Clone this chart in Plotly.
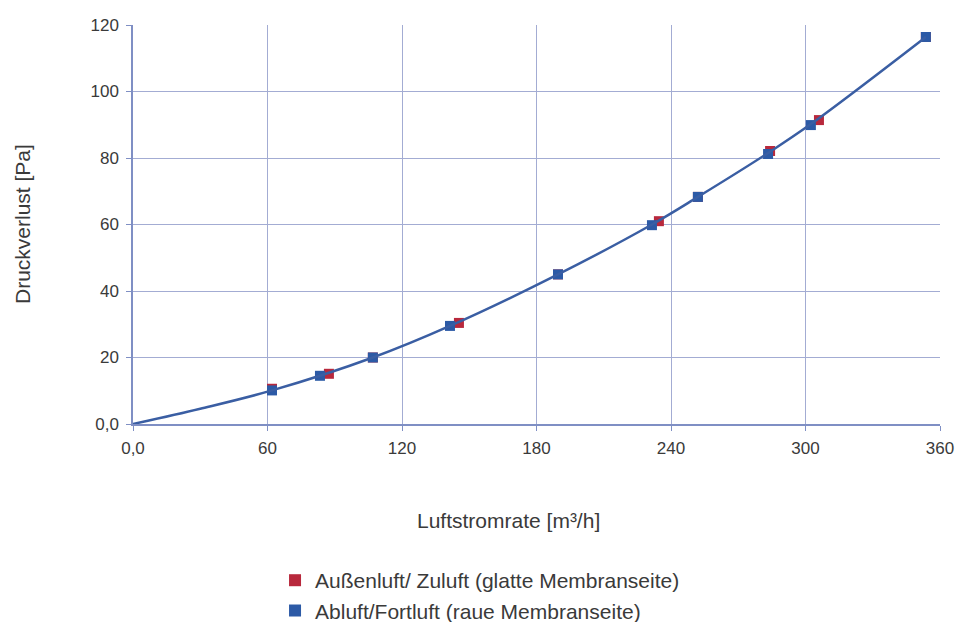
import plotly.graph_objects as go

# Data
x_red = [62, 87.4, 107, 145.4, 189.6, 234.6, 252, 284.2, 306, 353.7]
y_red = [10.6, 15.1, 20.0, 30.4, 45.0, 61.0, 68.3, 82.1, 91.4, 116.4]
x_blue = [62, 83.4, 107, 141.4, 189.6, 231.5, 252, 283.3, 302.4, 353.7]
y_blue = [10.1, 14.5, 20.0, 29.5, 45.0, 59.8, 68.3, 81.2, 89.9, 116.4]
# fitted curve
x_curve = [0, 30, 62, 107, 141.4, 189.6, 231.5, 252, 283.3, 302.4, 353.7]
y_curve = [0, 4.6, 10.1, 20.0, 29.5, 45.0, 60.0, 68.3, 81.5, 90.2, 116.4]

x_ticks = [0, 60, 120, 180, 240, 300, 360]
x_ticktext = ["0,0", "60", "120", "180", "240", "300", "360"]
y_ticks = [0, 20, 40, 60, 80, 100, 120]
y_ticktext = ["0,0", "20", "40", "60", "80", "100", "120"]

x_title = "Luftstromrate [m³/h]"
y_title = "Druckverlust [Pa]"

red = "#b8283c"
blue = "#2c5aa6"
line_col = "#3a5ea3"
grid = "#a3acd3"
axis_col = "#7f8fc4"
txt = "#3a3a3a"
font = "Liberation Sans, Arial, sans-serif"

fig = go.Figure()
fig.add_trace(go.Scatter(x=x_red, y=y_red, mode="markers", name="Außenluft/ Zuluft (glatte Membranseite)",
                         marker=dict(symbol="square", size=10, color=red)))
fig.add_trace(go.Scatter(x=x_blue, y=y_blue, mode="markers", name="Abluft/Fortluft (raue Membranseite)",
                         marker=dict(symbol="square", size=10, color=blue)))
fig.add_trace(go.Scatter(x=x_curve, y=y_curve, mode="lines", showlegend=False,
                         line=dict(color=line_col, width=2.5, shape="spline", smoothing=1.0)))

fig.update_layout(
    width=947, height=614,
    margin=dict(l=125, r=15, t=17, b=198, autoexpand=False),
    paper_bgcolor="white", plot_bgcolor="white",
    font=dict(family=font, size=17, color=txt),
    legend=dict(orientation="v", x=0.176, xanchor="left", y=-0.341, yanchor="top",
                font=dict(size=21, color=txt), itemsizing="constant"),
    showlegend=True,
    annotations=[
        dict(text=x_title, xref="paper", yref="paper", x=(508 - 133) / 807, y=-(520 - 424) / 399,
             xanchor="center", yanchor="middle", showarrow=False, font=dict(size=21, color=txt)),
        dict(text=y_title, xref="paper", yref="paper", x=(22 - 133) / 807, y=(424 - 224) / 399,
             xanchor="center", yanchor="middle", textangle=-90, showarrow=False,
             font=dict(size=21, color=txt)),
    ],
)
fig.update_xaxes(range=[0, 360], tickvals=x_ticks, ticktext=x_ticktext,
                 showgrid=True, gridcolor=grid, gridwidth=1.4,
                 showline=True, linecolor=axis_col, linewidth=1.5,
                 ticks="outside", ticklen=5, tickcolor=axis_col, ticklabelstandoff=3,
                 tickfont=dict(size=17, color=txt),
                 zeroline=False, automargin=False)
fig.update_yaxes(range=[0, 120], tickvals=y_ticks, ticktext=y_ticktext,
                 showgrid=True, gridcolor=grid, gridwidth=1.4,
                 showline=True, linecolor=axis_col, linewidth=1.5,
                 ticks="outside", ticklen=5, tickcolor=axis_col, ticklabelstandoff=4,
                 tickfont=dict(size=17, color=txt),
                 zeroline=False, automargin=False)
fig.write_html("out.html")
